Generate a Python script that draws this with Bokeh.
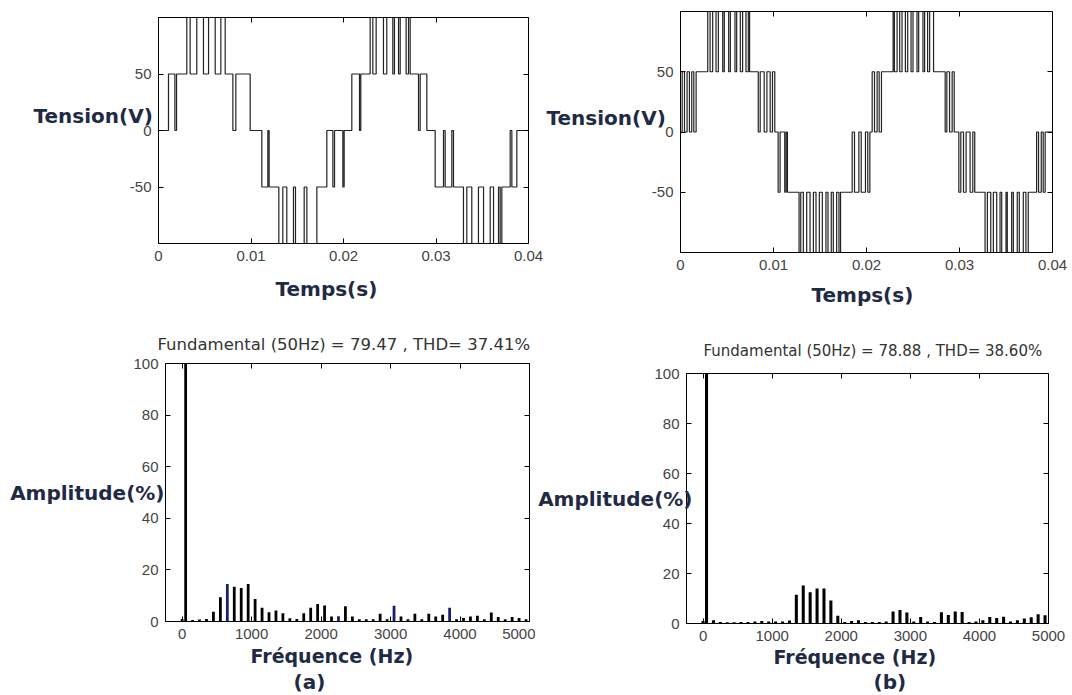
from bokeh.plotting import figure
from bokeh.models import LinearAxis, FixedTicker, Range1d, Title
from bokeh.layouts import column, row
from bokeh.embed import file_html
from bokeh.resources import INLINE

# ---------------- data ----------------
# (a) inverter output voltage: switching instants (ms) and level after each instant (V)
t_a_ms = [0, 1.08, 1.77, 1.95, 3.06, 3.42, 4.14, 4.86, 5.41, 6.13, 6.74, 7.21, 8.04, 8.36, 9.91,
          11.17, 11.82, 11.96, 13.01, 13.44, 13.87, 14.59, 14.81, 15.75, 16.04, 17.12, 18.20,
          18.85, 19.03, 19.93, 20.07, 20.90, 21.73, 21.87, 22.88, 23.17, 23.53, 24.32, 24.68,
          25.33, 25.51, 25.95, 26.13, 26.77, 27.03, 27.21, 28.11, 28.29, 29.01, 29.91, 30.81,
          30.99, 31.71, 31.89, 32.97, 33.33, 33.87, 34.59, 35.14, 35.86, 36.22, 36.76, 36.94,
          37.12, 38.02, 38.20, 38.74, 40.0]
v_a = [0, 50, 0, 50, 100, 50, 100, 50, 100, 50, 100, 50, 0, 50, 0,
       -50, 0, -50, -100, -50, -100, -50, -100, -50, -100, -50, 0,
       -50, 0, -50, 0, 50, 0, 50, 100, 50, 100, 50, 100,
       50, 100, 50, 100, 50, 100, 50, 0, 50, 0, -50, 0,
       -50, 0, -50, -100, -50, -100, -50, -100, -50, -100, -50, -100,
       -50, 0, -50, 0, 0]

# (b) inverter output voltage
t_b_ms = [0, 0.18, 0.43, 0.71, 0.96, 1.21, 1.43, 1.68, 2.93, 3.18, 3.46, 3.82, 4.07, 4.54, 4.71,
          5.18, 5.36, 5.86, 6.04, 6.43, 6.68, 7.04, 7.29, 7.43, 8.36, 8.57, 9.00, 9.29, 9.64,
          9.89, 10.14, 10.50, 10.71, 11.21, 11.36, 11.50, 12.75, 12.93, 13.21, 13.57, 13.93,
          14.29, 14.57, 14.93, 15.25, 15.64, 15.86, 16.21, 16.43, 16.79, 17.04, 17.21, 18.46,
          18.71, 19.18, 19.43, 19.89, 20.14, 20.36, 20.61, 20.86, 21.14, 21.36, 21.61, 22.86,
          23.00, 23.29, 23.57, 23.82, 24.18, 24.43, 24.79, 25.00, 25.43, 25.61, 26.07, 26.25,
          26.57, 26.79, 27.21, 28.46, 28.64, 28.93, 29.21, 29.43, 29.93, 30.14, 30.43, 30.71,
          31.14, 31.43, 31.64, 32.75, 33.00, 33.36, 33.64, 34.00, 34.36, 34.54, 35.00, 35.14,
          35.61, 35.79, 36.21, 36.43, 36.86, 37.14, 37.39, 38.29, 38.50, 38.79, 39.00, 39.21, 40.0]
v_b = [0, 50, 0, 50, 0, 50, 0, 50, 100, 50, 100, 50, 100, 50, 100,
       50, 100, 50, 100, 50, 100, 50, 100, 50, 0, 50, 0, 50, 0,
       50, 0, -50, 0, -50, 0, -50, -100, -50, -100, -50, -100,
       -50, -100, -50, -100, -50, -100, -50, -100, -50, -100, -50, 0,
       -50, 0, -50, 0, -50, 0, 50, 0, 50, 0, 50, 100,
       50, 100, 50, 100, 50, 100, 50, 100, 50, 100, 50, 100,
       50, 100, 50, 0, 50, 0, 50, 0, -50, 0, -50, 0,
       -50, 0, -50, -100, -50, -100, -50, -100, -50, -100, -50, -100,
       -50, -100, -50, -100, -50, -100, -50, 0, -50, 0, -50, 0, 0]

# spectra: DC then odd harmonics 50 Hz ... 4950 Hz (amplitude in % of fundamental)
freq_hz = [0] + list(range(50, 5000, 100))
amp_a = [1.0,
         100, 0.6, 0.8, 1.0, 3.8, 9.4, 14.5, 13.5, 13.0, 14.5,
         8.7, 5.3, 3.6, 4.3, 3.2, 1.3, 1.0, 3.2, 5.3, 6.8,
         6.2, 1.9, 2.0, 5.9, 1.9, 0.9, 0.9, 0.9, 3.0, 0.9,
         6.1, 1.9, 0.9, 3.0, 0.9, 3.0, 1.9, 2.6, 5.3, 0.9,
         1.4, 1.9, 2.2, 0.9, 3.5, 1.7, 0.9, 1.7, 1.4, 0.9]
amp_b = [1.0,
         100, 1.3, 0.6, 0.5, 0.5, 0.6, 0.6, 0.8, 1.0, 0.8,
         0.8, 0.8, 1.2, 11.5, 15.2, 12.5, 14.0, 14.0, 9.2, 3.1,
         0.6, 1.0, 1.3, 0.6, 0.6, 0.6, 0.8, 4.8, 5.4, 4.4,
         0.8, 2.6, 0.8, 0.6, 4.5, 3.4, 4.8, 4.6, 0.6, 0.8,
         1.3, 2.6, 2.2, 2.7, 0.8, 1.3, 2.0, 2.5, 3.7, 3.3]

title_a = "Fundamental (50Hz) = 79.47 , THD= 37.41%"
title_b = "Fundamental (50Hz) = 78.88 , THD= 38.60%"
time_ticks = [0, 0.01, 0.02, 0.03, 0.04]
time_tick_labels = {0: "0", 0.01: "0.01", 0.02: "0.02", 0.03: "0.03", 0.04: "0.04"}
volt_ticks = [-50, 0, 50]
volt_tick_labels = {-50: "-50", 0: "0", 50: "50"}
freq_ticks = [0, 1000, 2000, 3000, 4000, 5000]
amp_ticks = [0, 20, 40, 60, 80, 100]
navy_freqs_a = [650, 2250, 3050, 3850]

# ---------------- styling helpers ----------------
LABEL_COLOR = "#1f2a44"
BOLD_FONT = "DejaVu Sans"


def make_fig(w, h, xr, yr, l, r, t, b):
    p = figure(width=w, height=h, x_range=Range1d(*xr), y_range=Range1d(*yr),
               output_backend="svg", toolbar_location=None,
               min_border_left=l, min_border_right=r, min_border_top=t, min_border_bottom=b)
    try:
        p.frame_align = False
    except Exception:
        pass
    p.grid.visible = False
    p.outline_line_color = "black"
    p.outline_line_width = 1
    p.background_fill_color = "white"
    p.border_fill_color = "white"
    return p


def setup_axes(p, xticks, yticks, ylabel, ylabel_standoff, xlabels=None, ylabels=None):
    xa = p.below[0]
    ya = p.left[0]
    xa.ticker = FixedTicker(ticks=xticks)
    ya.ticker = FixedTicker(ticks=yticks)
    if xlabels:
        xa.major_label_overrides = xlabels
    if ylabels:
        ya.major_label_overrides = ylabels
    for ax in (xa, ya):
        ax.axis_line_color = None
        ax.major_tick_in = 5
        ax.major_tick_out = 0
        ax.major_tick_line_color = "black"
        ax.minor_tick_line_color = None
        ax.major_label_text_font = "Liberation Sans"
        ax.major_label_text_font_size = "15px"
        ax.major_label_text_color = "#444444"
        ax.major_label_standoff = 7
    ya.axis_label = ylabel
    ya.axis_label_text_font = BOLD_FONT
    ya.axis_label_text_font_size = "20px"
    ya.axis_label_text_font_style = "bold"
    ya.axis_label_text_color = LABEL_COLOR
    ya.axis_label_standoff = ylabel_standoff
    try:
        ya.axis_label_orientation = "horizontal"
    except Exception:
        pass
    for ticks, place in ((xticks, "above"), (yticks, "right")):
        ax = LinearAxis(ticker=FixedTicker(ticks=ticks), major_label_text_font_size="1px",
                        major_label_text_color=None, major_label_text_alpha=0,
                        major_label_standoff=0, axis_line_color=None, major_tick_in=5,
                        major_tick_out=0, minor_tick_line_color=None,
                        major_tick_line_color="black")
        p.add_layout(ax, place)


def add_title(p, text, place, size, offset, standoff, bold=True, color=LABEL_COLOR,
              font=BOLD_FONT):
    p.add_layout(Title(text=text, align="left", offset=offset, standoff=standoff,
                       text_font=font, text_font_size=size,
                       text_font_style="bold" if bold else "normal",
                       text_color=color), place)


def top_title(p, text, size, offset, standoff):
    p.title.text = text
    p.title.align = "left"
    p.title.offset = offset
    p.title.standoff = standoff
    p.title.text_font = "DejaVu Sans"
    p.title.text_font_size = size
    p.title.text_font_style = "normal"
    p.title.text_color = "#333333"


ROW1 = 315
ROW2 = 379

# ---------------- (a) waveform ----------------
p1 = make_fig(543, ROW1, (0, 0.04), (-100, 100), 158, 15, 17, ROW1 - 243)
setup_axes(p1, time_ticks, volt_ticks, "Tension(V)\n ", -26, time_tick_labels, volt_tick_labels)
p1.step([t / 1000 for t in t_a_ms], v_a, mode="after", line_color="#222222", line_width=1.2)
add_title(p1, "Temps(s)", "below", "20px", 117, 22)

# ---------------- (b) waveform ----------------
p2 = make_fig(527, ROW1, (0, 0.04), (-100, 100), 136, 18, 11, ROW1 - 252)
setup_axes(p2, time_ticks, volt_ticks, "Tension(V)\n ", -17, time_tick_labels, volt_tick_labels)
p2.step([t / 1000 for t in t_b_ms], v_b, mode="after", line_color="#222222", line_width=1.2)
add_title(p2, "Temps(s)", "below", "20px", 131, 16)

# ---------------- (a) spectrum ----------------
p3 = make_fig(535, ROW2, (-240, 5000), (0, 100), 165, 6, 363 - ROW1, ROW1 + ROW2 - 621)
setup_axes(p3, freq_ticks, amp_ticks, "Amplitude(%)", -34)
colors_a = ["#1a1f6b" if f in navy_freqs_a else "black" for f in freq_hz]
p3.vbar(x=freq_hz, top=amp_a, width=40, fill_color=colors_a, line_color=None)
top_title(p3, title_a, "16.5px", -8, 20)
add_title(p3, "Fréquence (Hz)", "below", "19px", 85, 2)
add_title(p3, "(a)", "below", "20px", 128, 0)

# ---------------- (b) spectrum ----------------
p4 = make_fig(535, ROW2, (-240, 5000), (0, 100), 148, 22, 373 - ROW1, ROW1 + ROW2 - 623)
setup_axes(p4, freq_ticks, amp_ticks, "Amplitude(%)", -41)
p4.vbar(x=freq_hz, top=amp_b, width=44, fill_color="black", line_color=None)
top_title(p4, title_b, "15px", 17, 28)
add_title(p4, "Fréquence (Hz)", "below", "19px", 87, 0)
add_title(p4, "(b)", "below", "20px", 187, 0)

layout = column(row(p1, p2), row(p3, p4))
open("out.html", "w").write(file_html(layout, INLINE))
